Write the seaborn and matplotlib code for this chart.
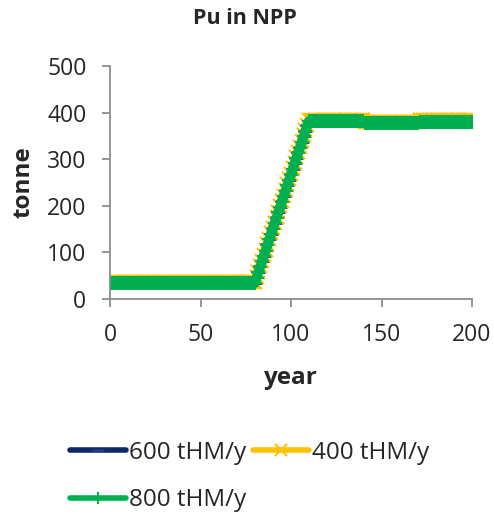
import numpy as np
import pandas as pd
import seaborn as sns
import matplotlib.pyplot as plt

years = list(range(0, 201))

ramp_600 = [35, 47, 58, 70, 82, 93, 105, 117, 128, 140, 152, 163, 175, 186, 198, 210,
            221, 233, 245, 256, 268, 280, 291, 303, 315, 326, 338, 350, 361, 373, 383]
ramp_400 = [36, 47, 59, 71, 82, 94, 106, 117, 129, 141, 152, 164, 176, 187, 199, 211,
            222, 234, 246, 257, 269, 281, 292, 304, 316, 327, 339, 351, 362, 374, 385]
ramp_800 = [34, 46, 58, 69, 81, 93, 104, 116, 128, 139, 151, 163, 174, 186, 197, 209,
            221, 232, 244, 256, 267, 279, 291, 302, 314, 325, 337, 349, 360, 372, 382]

pu_600 = [35] * 80 + ramp_600 + [383] * 30 + [378] * 30 + [380] * 30
pu_400 = [36] * 80 + ramp_400 + [384] * 30 + [379] * 30 + [384] * 30
pu_800 = [35] * 80 + ramp_800 + [382] * 30 + [378] * 30 + [380] * 30

sns.set_style("white")
plt.rcParams['font.family'] = ['Open Sans', 'DejaVu Sans']

fig = plt.figure(figsize=(4.94, 5.15), dpi=100)
ax = fig.add_axes([0.2227, 0.4194, 0.7328, 0.4524])

sns.lineplot(x=years, y=pu_600, ax=ax, color='#0d2a66', linewidth=7,
             marker='_', markersize=10, markeredgewidth=2,
             markeredgecolor='#1c3c85', label='600 tHM/y')
sns.lineplot(x=years, y=pu_400, ax=ax, color='#ffc000', linewidth=7,
             marker='x', markersize=10.5, markeredgewidth=1.5,
             markeredgecolor='#ffc000', label='400 tHM/y')
sns.lineplot(x=years, y=pu_800, ax=ax, color='#00b050', linewidth=7,
             marker='+', markersize=10, markeredgewidth=1.5,
             markeredgecolor='#00b050', label='800 tHM/y')

ax.set_xlim(0, 200)
ax.set_ylim(0, 500)
ax.set_xticks([0, 50, 100, 150, 200])
ax.set_yticks([0, 100, 200, 300, 400, 500])
for side in ['top', 'right']:
    ax.spines[side].set_visible(False)
for side in ['left', 'bottom']:
    ax.spines[side].set_color('#8c8c8c')
    ax.spines[side].set_linewidth(1.3)
ax.tick_params(axis='both', which='both', length=6, width=1.3, color='#8c8c8c',
               labelsize=16.5, direction='out', bottom=True, left=True, pad=11)
ax.tick_params(axis='x', pad=11)

ax.set_xlabel('year', fontsize=17.5, fontweight='bold', labelpad=14)
ax.set_ylabel('tonne', fontsize=17.5, fontweight='bold', labelpad=8)
fig.text(0.495, 0.965, 'Pu in NPP', ha='center', va='center',
         fontsize=15.5, fontweight='bold')

handles, labels = ax.get_legend_handles_labels()
ax.get_legend().remove()
order = [0, 2, 1]
leg = fig.legend([handles[i] for i in order], [labels[i] for i in order],
                 loc='upper left', bbox_to_anchor=(70 / 494, 1 - 441 / 515), ncol=2,
                 frameon=False, fontsize=17.5, handlelength=2.3, handletextpad=0.12,
                 columnspacing=0.3, labelspacing=0.95, borderaxespad=0, borderpad=0)
for h in leg.legend_handles:
    h.set_linewidth(4)
    h.set_markersize(9)
    h.set_solid_capstyle('round')

fig.savefig('out.png', dpi=100)
